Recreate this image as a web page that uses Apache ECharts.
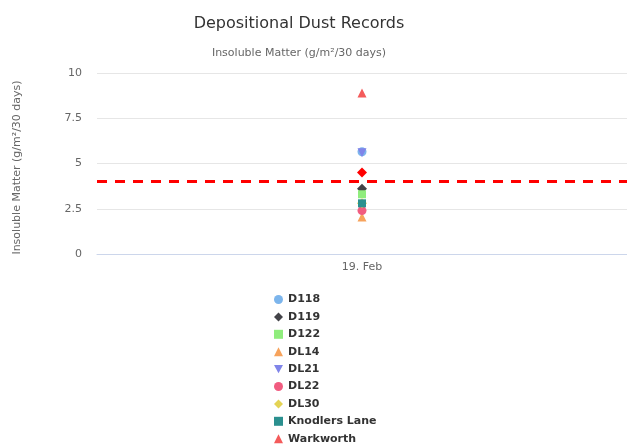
<!DOCTYPE html>
<html><head><meta charset="utf-8">
<script src="https://cdn.jsdelivr.net/npm/echarts@6/dist/echarts.min.js"></script>
<style>html,body{margin:0;padding:0;background:#fff}#c{width:627px;height:444px}</style>
</head><body><div id="c"></div>
<script>
const categories = ["19. Feb"];
const seriesNames = ["D118","D119","D122","DL14","DL21","DL22","DL30","Knodlers Lane","Warkworth"];
const seriesValues = [[5.65],[3.6],[3.3],[2.05],[5.6],[2.4],[2.8],[2.8],[8.9]];
const DOWN = 'path://M0,0L10,0L5,9Z';
const seriesSymbols = ["circle","diamond","rect","triangle",DOWN,"circle","diamond","rect","triangle"];
const seriesColors = ["#7cb5ec","#434348","#90ed7d","#f7a35c","#8085e9","#f15c80","#e4d354","#2b908f","#f45b5b"];
const extraValues = [4.5];
const limitValue = 4;
const yTicks = [0, 2.5, 5, 7.5, 10];

const font = "DejaVu Sans";
const series = seriesNames.map((n, i) => ({
  name: n, type: 'scatter', data: seriesValues[i],
  symbol: seriesSymbols[i], symbolSize: seriesSymbols[i]==='diamond'?10:(seriesSymbols[i]==='rect'?8:9),
  itemStyle: {color: seriesColors[i], opacity: 1}, z: 3 + i
}));
series.push({
  name: 'Limit marker', type: 'scatter', data: extraValues, symbol: 'diamond', symbolSize: 10,
  itemStyle: {color: '#ff0000', opacity: 1}, z: 20,
  markLine: {silent: true, symbol: 'none', label: {show: false},
    lineStyle: {color: '#ff0000', width: 3, type: [10, 8]},
    data: [{yAxis: limitValue}]}
});
const chart = echarts.init(document.getElementById('c'));
chart.setOption({
  animation: false,
  title: [{text: 'Depositional Dust Records', left: 294, top: 11, textAlign: 'center',
    textStyle: {fontFamily: font, fontSize: 16, fontWeight: 'normal', color: '#333'}},
    {text: 'Insoluble Matter (g/m²/30 days)', left: 294, top: 43, textAlign: 'center',
    textStyle: {fontFamily: font, fontSize: 11, fontWeight: 'normal', color: '#666'}}],
  grid: {left: 97, right: 0, top: 73, bottom: 190},
  legend: {orient: 'vertical', left: 269, top: 289, height: 160, itemWidth: 9, itemHeight: 9, itemGap: 6.4,
    data: seriesNames,
    textStyle: {fontFamily: font, fontSize: 11, fontWeight: 'bold', color: '#333', lineHeight: 11}},
  xAxis: {type: 'category', data: categories,
    axisLine: {lineStyle: {color: '#ccd6eb'}},
    axisTick: {alignWithLabel: true, length: 10, lineStyle: {color: '#ccd6eb'}},
    axisLabel: {fontFamily: font, fontSize: 11, color: '#666', margin: 8}},
  yAxis: {type: 'value', min: 0, max: 10, interval: 2.5,
    name: 'Insoluble Matter (g/m²/30 days)', nameLocation: 'middle', nameGap: 74,
    nameTextStyle: {fontFamily: font, fontSize: 11, color: '#666', padding: [0, 8, 0, 0]},
    axisLabel: {fontFamily: font, fontSize: 11, color: '#666', margin: 15,
      formatter: v => yTicks.includes(v) ? String(v) : ''},
    splitLine: {lineStyle: {color: '#e6e6e6'}}},
  series: series
});
</script></body></html>
